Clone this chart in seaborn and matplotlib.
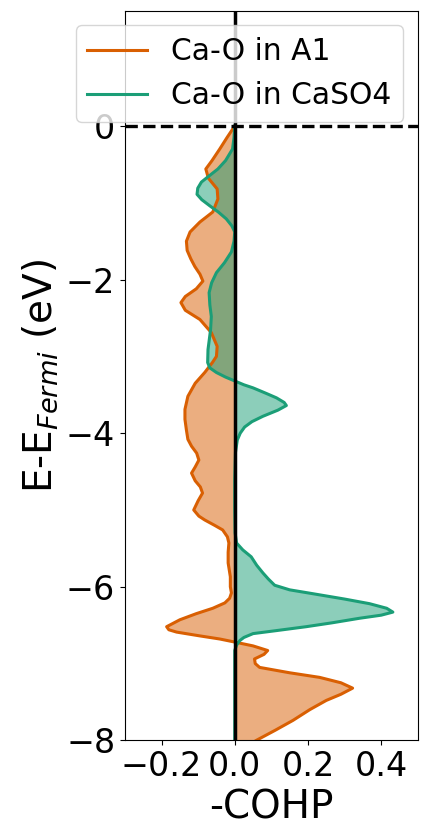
import numpy as np
import pandas as pd
import seaborn as sns
import matplotlib
matplotlib.use("Agg")
import matplotlib.pyplot as plt

# Energies (eV, relative to Fermi level) and -COHP values for Ca-O in A1
energy_a1 = [0.0, -0.15, -0.30, -0.45, -0.56, -0.68, -0.82, -0.95, -1.12, -1.25,
             -1.38, -1.50, -1.62, -1.73, -1.83, -1.93, -2.02, -2.12, -2.22, -2.30,
             -2.40, -2.52, -2.69, -2.87, -3.00, -3.08, -3.21, -3.35, -3.52, -3.69,
             -3.82, -3.96, -4.08, -4.17, -4.26, -4.35, -4.44, -4.52, -4.62, -4.70,
             -4.78, -4.88, -5.00, -5.08, -5.13, -5.20, -5.26, -5.35, -5.43, -5.55,
             -5.69, -5.87, -6.00, -6.08, -6.15, -6.21, -6.28, -6.35, -6.43, -6.52,
             -6.56, -6.59, -6.64, -6.68, -6.72, -6.77, -6.83, -6.88, -6.94, -7.00,
             -7.05, -7.12, -7.18, -7.25, -7.32, -7.40, -7.48, -7.60, -7.74, -7.87,
             -8.00]
cohp_a1 = [0.0, -0.021, -0.041, -0.062, -0.079, -0.072, -0.048, -0.046, -0.060, -0.095,
           -0.122, -0.132, -0.130, -0.120, -0.109, -0.095, -0.087, -0.105, -0.135, -0.147,
           -0.135, -0.095, -0.064, -0.048, -0.050, -0.061, -0.082, -0.108, -0.128, -0.136,
           -0.136, -0.132, -0.128, -0.118, -0.104, -0.098, -0.108, -0.118, -0.108, -0.094,
           -0.088, -0.100, -0.112, -0.098, -0.082, -0.055, -0.033, -0.020, -0.016, -0.018,
           -0.018, -0.012, -0.012, -0.009, -0.014, -0.027, -0.060, -0.105, -0.150, -0.186,
           -0.180, -0.159, -0.095, -0.041, 0.0, 0.050, 0.090, 0.080, 0.054, 0.056,
           0.068, 0.150, 0.232, 0.290, 0.322, 0.290, 0.250, 0.205, 0.159, 0.110,
           0.059]

# Energies and -COHP values for Ca-O in CaSO4
energy_caso4 = [0.0, -0.15, -0.30, -0.45, -0.56, -0.65, -0.73, -0.81, -0.89, -0.96,
                -1.04, -1.12, -1.21, -1.30, -1.38, -1.50, -1.64, -1.78, -1.91, -2.04,
                -2.17, -2.33, -2.48, -2.65, -2.80, -2.91, -3.08, -3.15, -3.21, -3.27,
                -3.32, -3.37, -3.41, -3.48, -3.54, -3.60, -3.64, -3.70, -3.78, -3.85,
                -3.92, -4.00, -4.09, -4.25, -4.60, -5.00, -5.30, -5.43, -5.52, -5.61,
                -5.72, -5.82, -5.90, -5.98, -6.04, -6.09, -6.16, -6.22, -6.28, -6.33,
                -6.37, -6.41, -6.47, -6.52, -6.57, -6.61, -6.66, -6.70, -6.76, -6.83,
                -7.00, -7.50, -8.00]
cohp_caso4 = [0.0, -0.002, -0.006, -0.025, -0.046, -0.070, -0.091, -0.101, -0.103, -0.090,
              -0.068, -0.045, -0.023, -0.008, 0.0, -0.002, -0.009, -0.028, -0.050, -0.063,
              -0.070, -0.068, -0.064, -0.066, -0.070, -0.073, -0.074, -0.068, -0.050, -0.025,
              0.0, 0.025, 0.050, 0.085, 0.114, 0.135, 0.141, 0.118, 0.077, 0.047,
              0.027, 0.015, 0.007, 0.002, 0.0, 0.0, 0.001, 0.005, 0.022, 0.045,
              0.060, 0.077, 0.092, 0.109, 0.150, 0.213, 0.300, 0.368, 0.415, 0.432,
              0.400, 0.341, 0.265, 0.195, 0.115, 0.050, 0.025, 0.014, 0.005, 0.0,
              0.0, 0.0, 0.0]

labels = ["Ca-O in A1", "Ca-O in CaSO4"]
colors = ["#d95f02", "#1b9e77"]

df = pd.concat([
    pd.DataFrame({"energy": energy_a1, "cohp": cohp_a1, "bond": labels[0]}),
    pd.DataFrame({"energy": energy_caso4, "cohp": cohp_caso4, "bond": labels[1]}),
], ignore_index=True)

plt.rcParams["font.family"] = ["DejaVu Sans"]

fig = plt.figure(figsize=(4.22, 8.30), dpi=100)
ax = fig.add_axes([0.296, 0.108, 0.694, 0.879])

sns.lineplot(data=df, x="cohp", y="energy", hue="bond", palette=colors,
             orient="y", sort=False, estimator=None, linewidth=2.2, ax=ax)

for lab, col in zip(labels, colors):
    sub = df[df["bond"] == lab]
    ax.fill_betweenx(sub["energy"], 0, sub["cohp"], color=col, alpha=0.5,
                     linewidth=0)

# zero line of -COHP and the Fermi level
ax.axvline(0, color="black", linewidth=2.5)
ax.axhline(0, color="black", linestyle="--", linewidth=2.4, zorder=6)

ax.set_xlim(-0.3, 0.5)
ax.set_ylim(-8, 1.5)
ax.set_xticks([-0.2, 0.0, 0.2, 0.4])
ax.set_yticks([-8, -6, -4, -2, 0])
ax.tick_params(labelsize=24)

ax.set_xlabel("-COHP", fontsize=28)
ax.set_ylabel("E-E$_{Fermi}$ (eV)", fontsize=28)

ax.legend(loc="upper right", bbox_to_anchor=(0.949, 0.980), borderaxespad=0,
          fontsize=21.4)

fig.savefig("out.png", dpi=100)
